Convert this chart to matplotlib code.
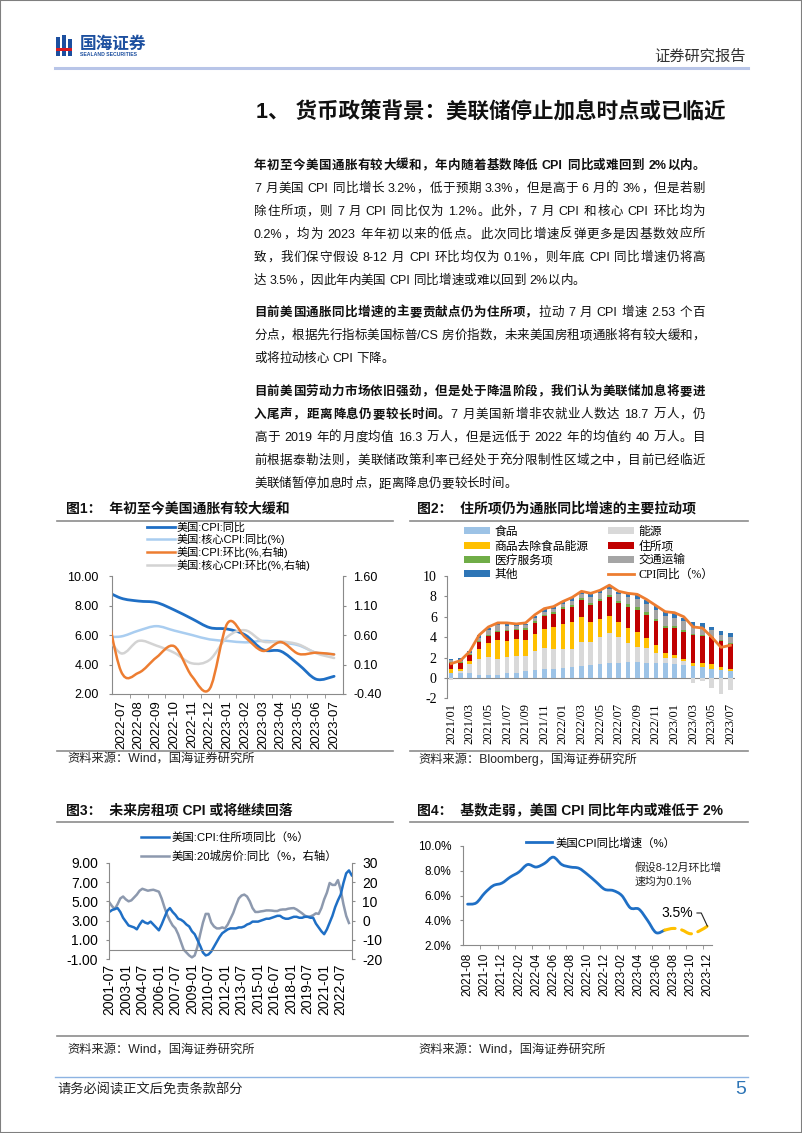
import numpy as np
import matplotlib
matplotlib.use("Agg")
import matplotlib.pyplot as plt
from matplotlib.path import Path
from matplotlib.patches import PathPatch, Rectangle, Patch
from matplotlib.lines import Line2D
from matplotlib.ticker import FuncFormatter
from matplotlib.font_manager import FontProperties

W, H = 802, 1133
SANS = ["Liberation Sans", "Noto Sans CJK SC"]
SERIF = ["Liberation Serif", "Noto Sans CJK SC"]
plt.rcParams["font.family"] = SANS
plt.rcParams["axes.unicode_minus"] = False

# ---------------- data ----------------
# 图1: 2022-06 lies just left of the axis and gets clipped
c1_months = ["2022-06", "2022-07", "2022-08", "2022-09", "2022-10", "2022-11", "2022-12",
             "2023-01", "2023-02", "2023-03", "2023-04", "2023-05", "2023-06", "2023-07"]
c1_cpi_yoy = [9.1, 8.5, 8.3, 8.2, 7.7, 7.1, 6.5, 6.4, 6.0, 5.0, 4.9, 4.0, 3.0, 3.2]
c1_core_yoy = [5.9, 5.9, 6.3, 6.6, 6.3, 6.0, 5.7, 5.6, 5.5, 5.6, 5.5, 5.3, 4.8, 4.7]
c1_cpi_mom = [1.37, -0.01, -0.04, 0.22, 0.41, -0.10, -0.31, 0.80, 0.56, 0.33, 0.48, 0.28, 0.30, 0.27]
c1_core_mom = [0.72, 0.29, 0.50, 0.42, 0.30, 0.12, 0.18, 0.57, 0.68, 0.49, 0.49, 0.44, 0.29, 0.21]

# 图2: contributions to CPI yoy (pp), 2021/01 - 2023/07
c2_months = [f"{y}/{m:02d}" for y in (2021, 2022, 2023) for m in range(1, 13)][:31]
c2_food = [0.52, 0.49, 0.48, 0.33, 0.30, 0.33, 0.47, 0.51, 0.63, 0.73, 0.84, 0.86,
           0.96, 1.08, 1.21, 1.29, 1.38, 1.42, 1.49, 1.56, 1.53, 1.49, 1.45, 1.42,
           1.38, 1.30, 1.16, 1.05, 0.92, 0.78, 0.67]
c2_energy = [-0.22, 0.15, 0.85, 1.55, 1.75, 1.55, 1.55, 1.60, 1.50, 1.90, 2.10, 2.00,
             1.90, 1.80, 2.35, 2.20, 2.60, 3.00, 2.50, 1.85, 1.55, 1.40, 1.00, 0.55,
             0.60, 0.35, -0.50, -0.35, -1.00, -1.55, -1.15]
c2_goods = [0.36, 0.27, 0.36, 0.92, 1.37, 1.80, 1.65, 1.68, 1.55, 1.65, 1.85, 2.10,
            2.46, 2.58, 2.46, 2.04, 1.79, 1.68, 1.47, 1.49, 1.39, 1.07, 0.78, 0.44,
            0.27, 0.21, 0.32, 0.42, 0.42, 0.27, 0.17]
c2_shelter = [0.59, 0.52, 0.55, 0.68, 0.72, 0.85, 0.91, 0.91, 1.04, 1.14, 1.24, 1.33,
              1.43, 1.53, 1.63, 1.66, 1.79, 1.82, 1.85, 2.02, 2.15, 2.24, 2.31, 2.44,
              2.60, 2.67, 2.70, 2.67, 2.64, 2.57, 2.53]
c2_medical = [0.12, 0.12, 0.13, 0.13, 0.12, 0.12, 0.12, 0.12, 0.14, 0.15, 0.15, 0.16,
              0.18, 0.18, 0.18, 0.20, 0.22, 0.25, 0.28, 0.30, 0.35, 0.30, 0.28, 0.25,
              0.22, 0.18, 0.12, 0.10, 0.08, 0.06, 0.05]
c2_transport = [0.12, 0.10, 0.10, 0.30, 0.45, 0.50, 0.40, 0.28, 0.30, 0.30, 0.30, 0.30,
                0.30, 0.40, 0.45, 0.55, 0.60, 0.60, 0.60, 0.75, 0.80, 0.80, 0.80, 0.95,
                0.85, 0.85, 0.80, 0.70, 0.65, 0.55, 0.55]
c2_other = [0.12, 0.28, 0.18, 0.29, 0.22, 0.21, 0.26, 0.16, 0.14, 0.23, 0.28, 0.25,
            0.19, 0.23, 0.18, 0.36, 0.25, 0.28, 0.27, 0.33, 0.43, 0.35, 0.44, 0.45,
            0.42, 0.34, 0.40, 0.42, 0.32, 0.37, 0.47]
c2_cpi = [1.4, 1.7, 2.6, 4.2, 5.0, 5.4, 5.4, 5.3, 5.4, 6.2, 6.8, 7.0,
          7.5, 7.9, 8.5, 8.3, 8.6, 9.1, 8.5, 8.3, 8.2, 7.7, 7.1, 6.5,
          6.4, 6.0, 5.0, 4.9, 4.0, 3.0, 3.2]

# 图3: quarterly readings from 2001-07 (Jan/Apr/Jul/Oct)
c3_ticklabels = ["2001-07", "2003-01", "2004-07", "2006-01", "2007-07", "2009-01", "2010-07",
                 "2012-01", "2013-07", "2015-01", "2016-07", "2018-01", "2019-07", "2021-01",
                 "2022-07"]
c3_shelter = [3.9, 4.1,
              4.2, 4.3, 3.9, 3.3, 2.9, 2.5, 2.4, 2.3, 2.1, 2.6, 3.0, 2.8,
              2.7, 2.9, 2.6, 2.3, 2.0, 2.6, 3.3, 4.0, 4.3, 3.9, 3.6, 3.2,
              3.1, 2.9, 2.6, 2.4, 1.9, 1.6, 1.0, 0.4, -0.3, -0.6, -0.5, -0.2,
              0.3, 0.8, 1.3, 1.7, 1.9, 2.1, 2.2, 2.2, 2.2, 2.3, 2.3, 2.4,
              2.6, 2.7, 2.9, 2.9, 2.9, 3.0, 3.1, 3.2, 3.2, 3.3, 3.4, 3.5,
              3.5, 3.3, 3.2, 3.2, 3.3, 3.4, 3.4, 3.3, 3.3, 3.4, 3.4, 3.3,
              3.3, 2.7, 2.3, 1.9, 1.6, 2.1, 2.8, 3.5, 4.4, 5.1, 5.7, 6.9,
              7.9, 8.2, 7.7]
c3_house = [9.5, 7.5,
            6.0, 8.5, 11.5, 12.5, 11.0, 10.0, 10.5, 12.0, 13.5, 15.5, 16.5, 16.0,
            15.5, 15.8, 16.0, 15.5, 15.0, 11.5, 7.0, 3.0, 0.0, -2.5, -4.0, -7.0,
            -11.0, -15.0, -16.5, -18.0, -19.0, -18.0, -13.5, -7.0, -1.0, 3.5, 3.5, -1.0,
            -3.0, -4.0, -4.0, -3.5, -4.0, -2.0, 1.0, 4.0, 8.0, 11.5, 13.0, 13.5,
            12.5, 10.0, 6.5, 4.5, 4.5, 4.8, 5.0, 5.3, 5.3, 5.2, 5.0, 5.0,
            5.6, 5.8, 5.8, 6.2, 6.4, 6.5, 5.8, 4.8, 3.8, 2.6, 2.0, 2.2,
            2.8, 3.8, 3.5, 6.5, 11.0, 14.5, 19.5, 18.5, 18.5, 21.0, 16.0, 8.5,
            2.5, -1.2]

# 图4
c4_months = ([f"2021-{m:02d}" for m in range(8, 13)] + [f"2022-{m:02d}" for m in range(1, 13)]
             + [f"2023-{m:02d}" for m in range(1, 13)])
c4_actual = [5.3, 5.4, 6.2, 6.8, 7.0, 7.5, 7.9, 8.5, 8.3, 8.6, 9.1, 8.5,
             8.3, 8.2, 7.7, 7.1, 6.5, 6.4, 6.0, 5.0, 4.9, 4.0, 3.0, 3.2]
c4_assumed = [3.2, 3.34, 3.22, 2.91, 3.11, 3.52]   # 2023-07 .. 2023-12

# ---------------- helpers ----------------
AX_C = "#8a8a8a"
BLUE = "#1f6fc5"


def fx(px):
    return px / W


def fy(py):
    return 1 - py / H


fig = plt.figure(figsize=(W / 100, H / 100), dpi=100)
fig.patch.set_facecolor("white")
renderer = fig.canvas.get_renderer()


def add_axes(x0, y0, x1, y1):
    return fig.add_axes([x0 / W, 1 - y1 / H, (x1 - x0) / W, (y1 - y0) / H])


def hline(x0, x1, y, color, lw):
    fig.add_artist(Line2D([fx(x0), fx(x1)], [fy(y), fy(y)], transform=fig.transFigure,
                          color=color, lw=lw))


def box(x0, y0, x1, y1, color):
    fig.add_artist(Rectangle((fx(x0), fy(y1)), (x1 - x0) / W, (y1 - y0) / H,
                             transform=fig.transFigure, color=color, lw=0))


def smooth_path(x, y):
    # excel-like smoothed line: catmull-rom turned into bezier segments
    x = np.asarray(x, float)
    y = np.asarray(y, float)
    n = len(x)
    verts = [(x[0], y[0])]
    codes = [Path.MOVETO]
    for i in range(n - 1):
        xa, ya = (x[i - 1], y[i - 1]) if i > 0 else (x[i], y[i])
        xd, yd = (x[i + 2], y[i + 2]) if i + 2 < n else (x[i + 1], y[i + 1])
        verts += [(x[i] + (x[i + 1] - xa) / 6, y[i] + (y[i + 1] - ya) / 6),
                  (x[i + 1] - (xd - x[i]) / 6, y[i + 1] - (yd - y[i]) / 6),
                  (x[i + 1], y[i + 1])]
        codes += [Path.CURVE4] * 3
    return Path(verts, codes)


def smooth_line(ax, x, y, color, lw, ls="-"):
    ax.add_patch(PathPatch(smooth_path(x, y), fill=False, edgecolor=color, lw=lw,
                           linestyle=ls, capstyle="round", joinstyle="round"))


def spines(ax, show):
    for side in ["left", "right", "top", "bottom"]:
        ax.spines[side].set_visible(side in show)
        ax.spines[side].set_color(AX_C)
        ax.spines[side].set_linewidth(0.8)


_adv = {}


def adv(s, size, bold):
    key = (s, size, bold)
    if key not in _adv:
        prop = FontProperties(family=SANS, size=size, weight="bold" if bold else "normal")
        a = renderer.get_text_width_height_descent("国" + s + "国", prop, ismath=False)[0]
        b = renderer.get_text_width_height_descent("国国", prop, ismath=False)[0]
        _adv[key] = a - b
    return _adv[key]


def tokens(segments):
    out = []
    for s, b in segments:
        buf = ""
        for ch in s:
            if ch.isascii() and ch != " ":
                buf += ch
            else:
                if buf:
                    out.append((buf, b))
                    buf = ""
                out.append((ch, b))
        if buf:
            out.append((buf, b))
    return out


def body_line(segments, y, justify=True, x0=254, x1=705, size=9):
    toks = tokens(segments)
    widths = [adv(t, size, b) for t, b in toks]
    extra = (x1 - x0 - sum(widths)) / (len(toks) - 1) if justify else 0
    x = x0
    for (t, b), w in zip(toks, widths):
        if t != " ":
            fig.text(fx(x), fy(y + 4.6), t, fontsize=size, color="#111111",
                     fontweight="bold" if b else "normal", ha="left", va="baseline")
        x += w + extra


# ---------------- page frame ----------------
fig.add_artist(Rectangle((0, 0), 1, 1, transform=fig.transFigure, fill=False,
                         edgecolor="#7f7f7f", lw=1.5))
LOGO = "#1c4f9f"
box(56, 37, 59.5, 56, LOGO)
box(62, 35, 65.5, 56, LOGO)
box(68, 39, 71.5, 56, LOGO)
box(56, 48.5, 71.5, 51, "#d71920")
fig.text(fx(80), fy(44), "国海证券", fontsize=12, fontweight="bold", color=LOGO,
         ha="left", va="center")
fig.text(fx(80.5), fy(54.5), "SEALAND SECURITIES", fontsize=3.7, fontweight="bold",
         color=LOGO, ha="left", va="center")
fig.text(fx(746), fy(57), "证券研究报告", fontsize=11, color="#333333", ha="right", va="center")
hline(55, 748, 67.5, "#b8c5e8", 2.2)

fig.text(fx(256), fy(113), "1、 货币政策背景：美联储停止加息时点或已临近", fontsize=15.5,
         fontweight="bold", color="#111111", ha="left", va="center")

# ---------------- body text ----------------
body_line([("年初至今美国通胀有较大缓和，年内随着基数降低 CPI 同比或难回到 2%以内。", True)], 164)
body_line([("7 月美国 CPI 同比增长 3.2%，低于预期 3.3%，但是高于 6 月的 3%，但是若剔", False)], 187)
body_line([("除住所项，则 7 月 CPI 同比仅为 1.2%。此外，7 月 CPI 和核心 CPI 环比均为", False)], 210)
body_line([("0.2%，均为 2023 年年初以来的低点。此次同比增速反弹更多是因基数效应所", False)], 233)
body_line([("致，我们保守假设 8-12 月 CPI 环比均仅为 0.1%，则年底 CPI 同比增速仍将高", False)], 256)
body_line([("达 3.5%，因此年内美国 CPI 同比增速或难以回到 2%以内。", False)], 279, justify=False)

body_line([("目前美国通胀同比增速的主要贡献点仍为住所项，", True),
           ("拉动 7 月 CPI 增速 2.53 个百", False)], 311)
body_line([("分点，根据先行指标美国标普/CS 房价指数，未来美国房租项通胀将有较大缓和，", False)], 334)
body_line([("或将拉动核心 CPI 下降。", False)], 357, justify=False)

body_line([("目前美国劳动力市场依旧强劲，但是处于降温阶段，我们认为美联储加息将要进", True)], 390)
body_line([("入尾声，距离降息仍要较长时间。", True),
           ("7 月美国新增非农就业人数达 18.7 万人，仍", False)], 413)
body_line([("高于 2019 年的月度均值 16.3 万人，但是远低于 2022 年的均值约 40 万人。目", False)], 436)
body_line([("前根据泰勒法则，美联储政策利率已经处于充分限制性区域之中，目前已经临近", False)], 459)
body_line([("美联储暂停加息时点，距离降息仍要较长时间。", False)], 482, justify=False)

# ---------------- chart frames ----------------
TITLE_C = "#111111"
for x, y, s in [(66, 508, "图1：  年初至今美国通胀有较大缓和"),
                (417, 508, "图2：  住所项仍为通胀同比增速的主要拉动项"),
                (66, 810, "图3：  未来房租项 CPI 或将继续回落"),
                (417, 810, "图4：  基数走弱，美国 CPI 同比年内或难低于 2%")]:
    fig.text(fx(x), fy(y), s, fontsize=10, fontweight="bold", color=TITLE_C, ha="left", va="center")
hline(57, 393, 521, "#8c8c8c", 1.2)
hline(410, 748, 521, "#8c8c8c", 1.2)
hline(57, 393, 750.5, "#8c8c8c", 1.2)
hline(410, 748, 750.5, "#8c8c8c", 1.2)
hline(57, 393, 822, "#8c8c8c", 1.2)
hline(410, 748, 822, "#8c8c8c", 1.2)
hline(57, 748, 1036, "#8c8c8c", 1.2)
for x, y, s in [(67, 759, "资料来源：Wind，国海证券研究所"),
                (418, 759, "资料来源：Bloomberg，国海证券研究所"),
                (67, 1050, "资料来源：Wind，国海证券研究所"),
                (418, 1050, "资料来源：Wind，国海证券研究所")]:
    fig.text(fx(x), fy(y), s, fontsize=8.8, color="#222222", ha="left", va="center")

# ---------------- 图1 ----------------
ax1 = add_axes(112, 576, 343, 694)
ax1r = ax1.twinx()
x1 = np.arange(len(c1_months)) - 1
smooth_line(ax1, x1, c1_core_yoy, "#a9cdf0", 1.8)
smooth_line(ax1, x1, c1_cpi_yoy, BLUE, 2.0)
smooth_line(ax1r, x1, c1_core_mom, "#d3d3d3", 1.8)
smooth_line(ax1r, x1, c1_cpi_mom, "#ed7d31", 1.8)
ax1.set_xlim(-0.5, 12.5)
ax1.set_ylim(2, 10)
ax1r.set_ylim(-0.4, 1.6)
ax1.set_yticks([2, 4, 6, 8, 10])
ax1r.set_yticks([-0.4, 0.1, 0.6, 1.1, 1.6])
ax1.yaxis.set_major_formatter(FuncFormatter(lambda v, p: f"{v:.2f}"))
ax1r.yaxis.set_major_formatter(FuncFormatter(lambda v, p: f"{v:.2f}"))
ax1.set_xticks(range(13))
ax1.set_xticklabels(c1_months[1:], rotation=90)
ax1.set_xticks(np.arange(0.5, 12.5, 1), minor=True)
ax1.tick_params(axis="x", which="major", length=0, pad=4.3, labelsize=9.5)
ax1.tick_params(axis="x", which="minor", length=3, color=AX_C)
ax1.tick_params(axis="y", length=2.5, pad=7, labelsize=9, color=AX_C)
ax1r.tick_params(axis="y", length=2.5, pad=5, labelsize=9, color=AX_C)
spines(ax1, ["left", "bottom"])
spines(ax1r, ["right"])
ax1.legend([Line2D([], [], color=BLUE, lw=2.0), Line2D([], [], color="#a9cdf0", lw=1.8),
            Line2D([], [], color="#ed7d31", lw=1.8), Line2D([], [], color="#d3d3d3", lw=1.8)],
           ["美国:CPI:同比", "美国:核心CPI:同比(%)", "美国:CPI:环比(%,右轴)", "美国:核心CPI:环比(%,右轴)"],
           loc="upper left", bbox_to_anchor=(fx(147), fy(522)), bbox_transform=fig.transFigure,
           frameon=False, fontsize=8, handlelength=2.5, handletextpad=0.2, labelspacing=0.12,
           borderpad=0, borderaxespad=0)

# ---------------- 图2 ----------------
ax2 = add_axes(446.5, 576, 735, 698.3)
x2 = np.arange(len(c2_months))
pos = np.zeros(len(x2))
neg = np.zeros(len(x2))
c2_series = [(c2_food, "#9dc3e6", "食品"), (c2_energy, "#d9d9d9", "能源"),
             (c2_goods, "#ffc000", "商品去除食品能源"), (c2_shelter, "#c00000", "住所项"),
             (c2_medical, "#70ad47", "医疗服务项"), (c2_transport, "#a5a5a5", "交通运输"),
             (c2_other, "#2e75b6", "其他")]
for vals, col, lab in c2_series:
    v = np.asarray(vals)
    bottom = np.where(v >= 0, pos, neg)
    ax2.bar(x2, v, 0.5, bottom=bottom, color=col, lw=0, zorder=2)
    pos = pos + np.clip(v, 0, None)
    neg = neg + np.clip(v, None, 0)
ax2.plot(x2, c2_cpi, color="#ed7d31", lw=2.0, zorder=3)
ax2.axhline(0, color=AX_C, lw=0.8, zorder=1)
ax2.set_xlim(-0.5, len(x2) - 0.5)
ax2.set_ylim(-2, 10)
ax2.set_yticks(range(-2, 11, 2))
ax2.set_xticks(x2[::2])
ax2.set_xticklabels(c2_months[::2], rotation=90)
ax2.tick_params(axis="x", length=0, pad=3.6, labelsize=9)
ax2.tick_params(axis="y", length=2.5, pad=4.5, labelsize=10, color=AX_C)
for lab in ax2.get_xticklabels() + ax2.get_yticklabels():
    lab.set_fontfamily(SERIF)
spines(ax2, ["left"])
h2 = [Patch(color=c, lw=0) for _, c, _ in c2_series] + [Line2D([], [], color="#ed7d31", lw=2.0)]
l2 = [lab for _, _, lab in c2_series] + ["CPI同比（%）"]
order = [0, 2, 4, 6, 1, 3, 5, 7]
ax2.legend([h2[i] for i in order], [l2[i] for i in order], ncol=2, loc="upper left",
           bbox_to_anchor=(fx(464), fy(526)), bbox_transform=fig.transFigure, frameon=False,
           prop=FontProperties(family=SERIF, size=8.5), handlelength=2.2, handleheight=0.55,
           handletextpad=0.4, labelspacing=0.2, columnspacing=1.6, borderpad=0, borderaxespad=0)

# ---------------- 图3 ----------------
ax3 = add_axes(109.3, 862.7, 351.7, 959.3)
ax3r = ax3.twinx()
ax3r.plot(np.arange(len(c3_house)) * 3, c3_house, color="#8d99ae", lw=1.8)
ax3.plot(np.arange(len(c3_shelter)) * 3, c3_shelter, color=BLUE, lw=1.8)
ax3.set_zorder(ax3r.get_zorder() + 1)
ax3.patch.set_visible(False)
ax3.axhline(0, color=AX_C, lw=0.8)
ax3.set_xlim(0, 264)
ax3.set_ylim(-1, 9)
ax3r.set_ylim(-20, 30)
ax3.set_yticks([-1, 1, 3, 5, 7, 9])
ax3.yaxis.set_major_formatter(FuncFormatter(lambda v, p: f"{v:.2f}"))
ax3r.set_yticks(range(-20, 31, 10))
ax3.set_xticks(range(0, 253, 18))
ax3.set_xticklabels(c3_ticklabels, rotation=90)
ax3.tick_params(axis="x", length=0, pad=3, labelsize=10)
ax3.tick_params(axis="y", length=2.5, pad=5.5, labelsize=10, color=AX_C)
ax3r.tick_params(axis="y", length=2.5, pad=5, labelsize=10, color=AX_C)
spines(ax3, ["left"])
spines(ax3r, ["right"])
ax3.legend([Line2D([], [], color=BLUE, lw=1.8), Line2D([], [], color="#8d99ae", lw=1.8)],
           ["美国:CPI:住所项同比（%）", "美国:20城房价:同比（%，右轴）"], loc="upper left",
           bbox_to_anchor=(fx(141), fy(832)), bbox_transform=fig.transFigure, frameon=False,
           fontsize=8.2, handlelength=2.5, handletextpad=0.15, labelspacing=0.66,
           borderpad=0, borderaxespad=0)

# ---------------- 图4 ----------------
ax4 = add_axes(463.3, 846, 711.7, 945)
x4 = np.arange(len(c4_months))
smooth_line(ax4, x4[:len(c4_actual)], c4_actual, BLUE, 2.0)
smooth_line(ax4, x4[len(c4_actual) - 1:], c4_assumed, "#ffc000", 2.2, ls=(0, (3.5, 2.2)))
ax4.set_xlim(-0.5, len(x4) - 0.5)
ax4.set_ylim(2, 10)
ax4.set_yticks([2, 4, 6, 8, 10])
ax4.yaxis.set_major_formatter(FuncFormatter(lambda v, p: f"{v:.1f}%"))
ax4.set_xticks(x4[::2])
ax4.set_xticklabels(c4_months[::2], rotation=90)
ax4.set_xticks(np.arange(1.5, len(x4) - 1, 2), minor=True)
ax4.tick_params(axis="x", which="major", length=0, pad=5.5, labelsize=8.5)
ax4.tick_params(axis="x", which="minor", length=3, color=AX_C)
ax4.tick_params(axis="y", length=2.5, pad=6, labelsize=8.5, color=AX_C)
spines(ax4, ["left", "bottom"])
ax4.legend([Line2D([], [], color=BLUE, lw=2.0)], ["美国CPI同比增速（%）"], loc="upper left",
           bbox_to_anchor=(fx(526), fy(837)), bbox_transform=fig.transFigure, frameon=False,
           fontsize=8.2, handlelength=2.3, handletextpad=0.3, borderpad=0, borderaxespad=0)
ax4.annotate("3.5%", xy=(x4[-1], c4_assumed[-1]), xytext=(661, H - 913),
             textcoords="figure pixels", fontsize=10, ha="left", va="center",
             arrowprops=dict(arrowstyle="-", color="#222222", lw=0.8, relpos=(1, 0.5),
                             shrinkA=1, shrinkB=0,
                             connectionstyle="angle,angleA=0,angleB=115,rad=0"))
fig.text(fx(635), fy(874), "假设8-12月环比增\n速均为0.1%", fontsize=7.8, color="#222222",
         ha="left", va="center", linespacing=1.45)

# ---------------- footer ----------------
hline(55, 748, 1077, "#8db3e2", 1.0)
fig.text(fx(57), fy(1090), "请务必阅读正文后免责条款部分", fontsize=9.5, color="#222222",
         ha="left", va="center")
fig.text(fx(746), fy(1089), "5", fontsize=14, color="#2e75b6", ha="right", va="center")

fig.savefig("out.png", dpi=100)
